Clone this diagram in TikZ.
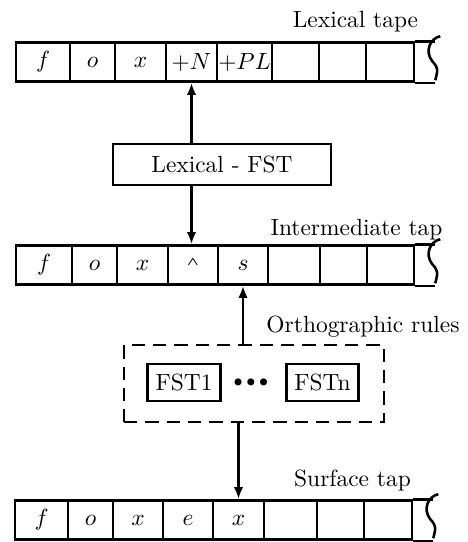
\documentclass[tikz,border=0pt]{standalone}
\usepackage{amsmath}
\usetikzlibrary{positioning,arrows.meta}

\begin{document}
\begin{tikzpicture}[
    x=0.15mm, y=-0.15mm,
    line width=1.1pt,
    cell/.style={
        draw,
        minimum height=5.85mm,
        inner sep=0pt
    },
    fst box/.style={
        draw,
        minimum width=1.08cm,
        minimum height=5.55mm
    },
    arrow/.style={-{Latex[length=1.8mm,width=1.4mm]}},
    tape label/.style={anchor=base}
]

\useasboundingbox (0,0) rectangle (468,542);

% tapes: symbol / left edge / right edge
\foreach \sym/\a/\b [count=\i] in {$f$/16/70,$o$/70/115,$x$/115/166,$+N$/166/217,
        $+PL$/217/272,{}/272/319,{}/319/366,{}/366/414}
    \node[cell, minimum width={(\b-\a)*0.15mm}] (lex\i) at ({(\a+\b)/2},62) {\sym};
\foreach \sym/\a/\b [count=\i] in {$f$/16/72,$o$/72/117,$x$/117/168,
        \raisebox{2pt}{\tiny$\boldsymbol{\wedge}$}/168/218,$s$/218/268,{}/268/320,{}/320/367,{}/367/414}
    \node[cell, minimum width={(\b-\a)*0.15mm}] (mid\i) at ({(\a+\b)/2},265) {\sym};
\foreach \sym/\a/\b [count=\i] in {$f$/15/68,$o$/68/113,$x$/113/163,$e$/163/213,
        $x$/213/264,{}/264/317,{}/317/364,{}/364/412}
    \node[cell, minimum width={(\b-\a)*0.15mm}] (surf\i) at ({(\a+\b)/2},520) {\sym};

% open right end of each tape
\foreach \tp in {lex,mid,surf} {
    \draw (\tp8.north east) -- ++(20,0);
    \draw (\tp8.south east) -- ++(20,0);
    \draw ([shift={(25,-5)}]\tp8.north east)
        .. controls +(-10,2) and +(-8,-10) .. ([shift={(17,20)}]\tp8.north east)
        .. controls +(8,8) and +(1,-6) .. ([shift={(20,39)}]\tp8.north east);
}

\node[tape label] (lexlabel) at (355.5,27) {Lexical tape};
\node[tape label] (midlabel) at (356.5,235) {Intermediate tap};
\node[tape label] (ruleslabel) at (363,332) {Orthographic rules};
\node[tape label] (surflabel) at (352.5,486) {Surface tap};

% lexical transducer
\node[draw, minimum width=3.27cm, minimum height=6.15mm] (lexfst) at (222,164.5) {Lexical - FST};

\draw[arrow] (lex4 |- lexfst.north) -- (lex4.south);
\draw[arrow] (lex4 |- lexfst.south) -- (lex4 |- mid4.north);

% orthographic rules
\node[draw, dash pattern=on 2mm off 1.2mm, minimum width=3.9cm, minimum height=1.155cm] (rules) at (254,383.5) {};
\node[fst box] (fst1) at (184,382.5) {FST1};
\node (dots) at (251,382.5) {\scriptsize${\bullet}\,{\bullet}\,{\bullet}$};
\node[fst box] (fstn) at (322.5,382.5) {FSTn};

\draw[arrow] (mid5 |- rules.north) -- (mid5.south);
\draw[arrow] (surf5 |- rules.south) -- (surf5.north);

\end{tikzpicture}
\end{document}
